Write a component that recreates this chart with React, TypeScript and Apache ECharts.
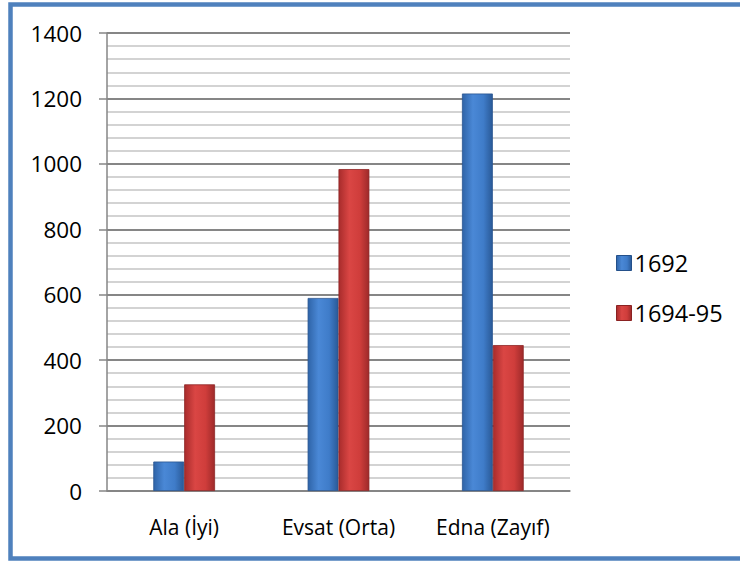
import React, { useEffect, useRef } from "react";
import * as echarts from "echarts";

const categories = ["Ala (İyi)", "Evsat (Orta)", "Edna (Zayıf)"];
const seriesNames = ["1692", "1694-95"];
const values1692 = [90, 590, 1215];
const values169495 = [326, 984, 446];
const yTicks = { min: 0, max: 1400, interval: 200 };

const FONT = "'Open Sans', sans-serif";
const FS = 22.5;

const blueGrad = () =>
  new echarts.graphic.LinearGradient(0, 0, 1, 0, [
    { offset: 0, color: "#2F64A8" },
    { offset: 0.35, color: "#4A88D6" },
    { offset: 0.7, color: "#3F7CC9" },
    { offset: 1, color: "#2A5A98" },
  ]);
const redGrad = () =>
  new echarts.graphic.LinearGradient(0, 0, 1, 0, [
    { offset: 0, color: "#A82C2C" },
    { offset: 0.35, color: "#DA4644" },
    { offset: 0.7, color: "#CF3D3B" },
    { offset: 1, color: "#9E2A2A" },
  ]);

export default function App() {
  const ref = useRef<HTMLDivElement>(null);
  useEffect(() => {
    if (!ref.current) return;
    const chart = echarts.init(ref.current, undefined, { renderer: "svg" });
    chart.setOption({
      animation: false,
      backgroundColor: "#ffffff",
      graphic: [
        {
          type: "rect",
          shape: { x: 10.5, y: 4.5, width: 760, height: 554 },
          style: { fill: "none", stroke: "#4F81BD", lineWidth: 4.5 },
          silent: true,
        },
      ],
      grid: { left: 107, right: 170, top: 33, bottom: 70, containLabel: false },
      legend: {
        orient: "vertical",
        left: 611,
        top: 246,
        icon: "rect",
        itemWidth: 15,
        itemHeight: 15,
        itemGap: 26,
        data: [
          { name: seriesNames[0], itemStyle: { color: blueGrad(), borderColor: "#24508A", borderWidth: 1 } },
          { name: seriesNames[1], itemStyle: { color: redGrad(), borderColor: "#8A2222", borderWidth: 1 } },
        ],
        textStyle: { fontFamily: FONT, fontSize: 23.5, color: "#000", lineHeight: 22, padding: [0, 0, 0, -2] },
      },
      xAxis: {
        type: "category",
        data: categories,
        axisLine: { lineStyle: { color: "#868686", width: 1.5 } },
        axisTick: { show: false },
        axisLabel: { fontFamily: FONT, fontSize: 21, color: "#000", margin: 25, interval: 0, hideOverlap: false },
        splitLine: { show: false },
      },
      yAxis: {
        type: "value",
        min: yTicks.min,
        max: yTicks.max,
        interval: yTicks.interval,
        axisLine: { show: true, lineStyle: { color: "#868686", width: 1.5 } },
        axisTick: { show: true, inside: false, length: 8, lineStyle: { color: "#868686", width: 1.5 } },
        axisLabel: {
          fontFamily: FONT,
          fontSize: FS,
          color: "#000",
          margin: 25,
          formatter: (v: number) => String(v),
        },
        splitLine: { show: true, lineStyle: { color: "#868686", width: 2 } },
        minorTick: { show: false, splitNumber: 5 },
        minorSplitLine: { show: true, lineStyle: { color: "#C4C4C4", width: 1.5 } },
      },
      series: [
        {
          name: seriesNames[0],
          type: "bar",
          data: values1692,
          barGap: "0%",
          barCategoryGap: "60%",
          itemStyle: { color: blueGrad(), borderColor: "#2A5690", borderWidth: 0.8 },
        },
        {
          name: seriesNames[1],
          type: "bar",
          data: values169495,
          barGap: "0%",
          barCategoryGap: "60%",
          itemStyle: { color: redGrad(), borderColor: "#8E2626", borderWidth: 0.8 },
        },
      ],
    });
    return () => chart.dispose();
  }, []);
  return <div ref={ref} style={{ width: 740, height: 561, position: "absolute", left: 0, top: 0 }} />;
}
